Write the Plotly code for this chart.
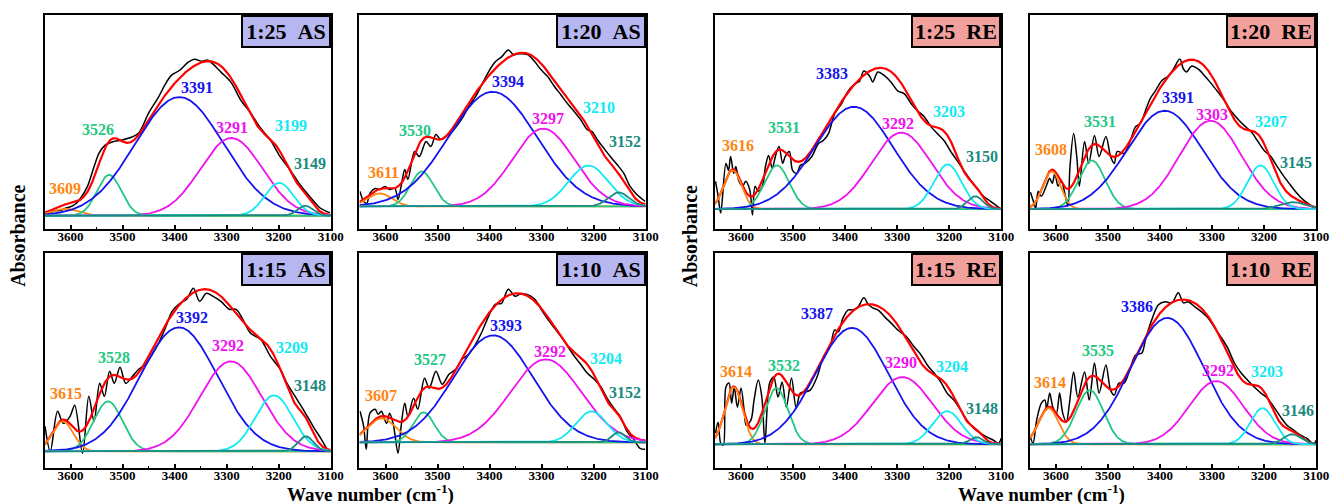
import numpy as np
import plotly.graph_objects as go

# ---------------- measured spectra (black traces) ----------------
wn_125_as = [3650, 3640, 3630, 3620, 3609, 3600, 3590, 3583, 3568, 3555, 3545, 3533, 3520, 3501, 3482, 3469,
             3450, 3431, 3419, 3406, 3390, 3374, 3362, 3349, 3336, 3324, 3311, 3292, 3273, 3254, 3235,
             3216, 3197, 3178, 3159, 3140, 3121, 3102]
ab_125_as = [2, 3, 5, 5, 7.7, 9, 12, 16, 29, 49, 63, 71, 74, 76, 79, 83,
             103, 119, 131, 141, 146, 154, 157, 155, 156, 151, 144, 134, 116, 103, 88,
             76, 59, 46, 31, 19, 8, 3]

wn_120_as = [3649, 3642, 3636, 3630, 3620, 3611, 3601, 3592, 3582, 3576, 3570, 3563, 3557, 3544, 3535, 3522,
             3513, 3503, 3494, 3484, 3472, 3453, 3440, 3427, 3415, 3402, 3389, 3377, 3364, 3354, 3345,
             3335, 3326, 3313, 3301, 3288, 3275, 3263, 3250, 3237, 3225, 3212, 3203, 3193, 3180, 3168,
             3155, 3142, 3130, 3117, 3101]
ab_120_as = [15, 5, 3, 13, 18, 17, 20, 17, 18, 7, 20, 37, 27, 55, 50, 65,
             60, 72, 67, 70, 75, 88, 100, 110, 122, 135, 145, 150, 157, 152, 153,
             153, 152, 145, 137, 130, 120, 112, 103, 95, 87, 77, 75, 67, 58, 50,
             42, 33, 20, 12, 5]

wn_115_as = [3649, 3639, 3625, 3614, 3601, 3592, 3577, 3565, 3555, 3544, 3535, 3525, 3516, 3505, 3494, 3481,
             3469, 3456, 3443, 3431, 3418, 3405, 3390, 3377, 3364, 3352, 3339, 3326, 3311, 3295, 3282,
             3269, 3254, 3235, 3216, 3197, 3184, 3165, 3153, 3134, 3118, 3108, 3102]
ab_115_as = [25, 0, 40, 28, 35, 46, -2, 55, 30, 68, 55, 80, 68, 84, 68, 75,
             82, 87, 97, 108, 123, 140, 148, 152, 163, 150, 158, 155, 150, 142, 142,
             132, 118, 112, 95, 82, 68, 52, 42, 25, 12, 3, 0]

wn_110_as = [3649, 3642, 3637, 3630, 3620, 3614, 3608, 3598, 3592, 3585, 3576, 3570, 3563, 3557, 3546, 3538,
             3525, 3516, 3503, 3491, 3478, 3465, 3453, 3440, 3427, 3415, 3402, 3389, 3377, 3364, 3351,
             3342, 3329, 3313, 3301, 3288, 3275, 3263, 3250, 3237, 3225, 3212, 3199, 3187, 3174, 3161,
             3149, 3136, 3123, 3111, 3101]
ab_110_as = [31, 16, -7, 29, 33, 28, 31, 19, 29, 18, -11, 16, 39, 26, 44, 33,
             64, 54, 71, 58, 68, 73, 83, 88, 98, 110, 126, 138, 139, 153, 146,
             148, 148, 143, 133, 123, 114, 106, 96, 86, 78, 69, 63, 56, 44, 34,
             26, 11, 3, -6, -7]

wn_125_re = [3649, 3644, 3639, 3629, 3624, 3620, 3614, 3610, 3604, 3597, 3591, 3583, 3578, 3573, 3567, 3559,
             3553, 3547, 3540, 3534, 3527, 3520, 3515, 3507, 3501, 3493, 3486, 3477, 3464, 3451, 3442,
             3432, 3420, 3407, 3394, 3381, 3372, 3364, 3353, 3347, 3337, 3324, 3312, 3299, 3286, 3273,
             3261, 3248, 3235, 3223, 3210, 3197, 3185, 3172, 3159, 3147, 3134, 3121, 3108, 3100]
ab_125_re = [28, 13, -4, 46, 39, 53, 36, 43, 28, 23, 28, 19, -6, 23, 18, 23,
             43, 54, 41, 53, 63, 46, 53, 58, 39, 36, 44, 46, 53, 66, 69,
             76, 96, 106, 119, 126, 129, 139, 134, 128, 138, 134, 128, 119, 116, 106,
             99, 93, 83, 76, 69, 58, 49, 39, 29, 21, 13, 8, 3, 0]

wn_120_re = [3649, 3644, 3639, 3634, 3628, 3618, 3612, 3607, 3602, 3596, 3590, 3583, 3577, 3573, 3566, 3560,
             3555, 3545, 3537, 3526, 3517, 3504, 3495, 3488, 3482, 3469, 3457, 3447, 3438, 3428, 3419,
             3409, 3397, 3384, 3374, 3362, 3355, 3349, 3339, 3327, 3314, 3301, 3289, 3276, 3264, 3251,
             3238, 3225, 3213, 3200, 3187, 3175, 3162, 3149, 3137, 3124, 3111, 3100]
ab_120_re = [17, 9, 1, 18, 13, 24, 31, 26, 36, 23, 29, 16, 3, 43, 76, 53,
             23, 68, 46, 74, 53, 73, 53, 46, 58, 56, 69, 83, 86, 99, 111,
             119, 129, 134, 141, 151, 141, 138, 144, 141, 134, 126, 118, 109, 99, 91,
             84, 78, 69, 59, 53, 43, 33, 24, 16, 9, 4, 0]

wn_115_re = [3649, 3644, 3639, 3634, 3629, 3623, 3618, 3613, 3607, 3600, 3594, 3590, 3581, 3575, 3567, 3560,
             3554, 3545, 3537, 3529, 3521, 3513, 3503, 3494, 3486, 3477, 3467, 3454, 3442, 3429, 3420,
             3413, 3404, 3394, 3385, 3375, 3364, 3355, 3347, 3337, 3324, 3312, 3299, 3286, 3280, 3267,
             3254, 3242, 3229, 3216, 3204, 3191, 3178, 3166, 3153, 3140, 3127, 3115, 3105, 3100]
ab_115_re = [11, 22, 1, -1, 57, 61, 41, 57, 37, 56, 34, 19, 24, 44, 64, 47,
             1, 61, 67, 47, 62, 37, 66, 36, 51, 52, 54, 67, 87, 97, 114,
             112, 126, 134, 134, 137, 146, 139, 136, 134, 127, 121, 114, 109, 106, 97,
             89, 79, 71, 62, 51, 44, 34, 24, 16, 11, 7, 4, 1, 6]

wn_110_re = [3649, 3644, 3637, 3628, 3621, 3618, 3612, 3606, 3599, 3593, 3587, 3580, 3574, 3566, 3558, 3545,
             3536, 3526, 3517, 3504, 3495, 3488, 3479, 3469, 3460, 3447, 3435, 3428, 3416, 3403, 3390,
             3377, 3365, 3355, 3346, 3333, 3320, 3308, 3295, 3283, 3270, 3257, 3244, 3232, 3219, 3206,
             3194, 3181, 3168, 3156, 3143, 3130, 3118, 3105, 3100]
ab_110_re = [7, 1, 24, 41, 44, 34, 51, 37, 31, 51, 31, 22, 41, 72, 47, 72,
             44, 81, 51, 79, 54, 49, 61, 61, 71, 89, 91, 104, 124, 139, 142,
             141, 151, 141, 142, 137, 132, 126, 116, 107, 96, 81, 71, 64, 57, 51,
             46, 37, 27, 19, 14, 9, 6, 0, 4]

# ---------------- Gaussian band parameters (centre cm-1, height, FWHM cm-1) ----------------
centers_125_as = [3609, 3526, 3391, 3291, 3199, 3149]
heights_125_as = [7, 41, 119, 78, 33, 10]
fwhm_125_as = [60, 55, 200, 140, 65, 35]

centers_120_as = [3611, 3530, 3394, 3297, 3210, 3152]
heights_120_as = [13, 35, 115, 78, 41, 14]
fwhm_120_as = [55, 52, 200, 140, 90, 47]

centers_115_as = [3615, 3528, 3392, 3292, 3209, 3148]
heights_115_as = [30, 50, 124, 90, 56, 15]
fwhm_115_as = [47, 65, 175, 140, 85, 35]

centers_110_as = [3607, 3527, 3393, 3292, 3204, 3152]
heights_110_as = [24, 30, 107, 83, 31, 10]
fwhm_110_as = [65, 48, 180, 160, 70, 30]

centers_125_re = [3616, 3531, 3383, 3292, 3203, 3150]
heights_125_re = [39, 44, 103, 77, 45, 13]
fwhm_125_re = [40, 56, 177, 135, 63, 35]

centers_120_re = [3608, 3531, 3391, 3303, 3207, 3145]
heights_120_re = [38, 49, 99, 89, 44, 7]
fwhm_120_re = [40, 60, 170, 140, 60, 60]

centers_115_re = [3614, 3532, 3387, 3290, 3204, 3148]
heights_115_re = [57, 56, 116, 67, 33, 7]
fwhm_115_re = [40, 52, 165, 135, 66, 30]

centers_110_re = [3614, 3535, 3386, 3292, 3203, 3146]
heights_110_re = [36, 54, 126, 63, 36, 10]
fwhm_110_re = [45, 62, 165, 122, 55, 40]

panel_titles = ["1:25\u00a0\u00a0AS", "1:20\u00a0\u00a0AS", "1:15\u00a0\u00a0AS", "1:10\u00a0\u00a0AS",
                "1:25\u00a0\u00a0RE", "1:20\u00a0\u00a0RE", "1:15\u00a0\u00a0RE", "1:10\u00a0\u00a0RE"]
x_ticks = [3600, 3500, 3400, 3300, 3200, 3100]

# ---------------- styling / layout ----------------
band_colors = ["#FF8410", "#22C882", "#1414EE", "#F010F0", "#10EAF2", "#1A8A80"]
fit_color = "#FF0000"
box_colors = {"AS": "#B6B6F0", "RE": "#F2A09C"}
FONT = "Liberation Serif"

spectra = [(wn_125_as, ab_125_as), (wn_120_as, ab_120_as), (wn_115_as, ab_115_as), (wn_110_as, ab_110_as),
           (wn_125_re, ab_125_re), (wn_120_re, ab_120_re), (wn_115_re, ab_115_re), (wn_110_re, ab_110_re)]
bands = [(centers_125_as, heights_125_as, fwhm_125_as), (centers_120_as, heights_120_as, fwhm_120_as),
         (centers_115_as, heights_115_as, fwhm_115_as), (centers_110_as, heights_110_as, fwhm_110_as),
         (centers_125_re, heights_125_re, fwhm_125_re), (centers_120_re, heights_120_re, fwhm_120_re),
         (centers_115_re, heights_115_re, fwhm_115_re), (centers_110_re, heights_110_re, fwhm_110_re)]

# where each band label sits (wavenumber, absorbance) in its panel
label_pos = [
    [(3611, 27.7), (3547, 86.7), (3357, 128.7), (3289, 88.3), (3176, 90.3), (3140, 52.7)],
    [(3604, 34), (3543, 75.7), (3364, 125.7), (3288, 88.3), (3190, 99.3), (3140, 65)],
    [(3608, 57.7), (3517, 94.3), (3366, 134.3), (3298, 105.7), (3175, 104.3), (3140, 65.7)],
    [(3609, 47), (3515, 82.7), (3368, 117), (3284, 90.7), (3176, 84.3), (3139, 50)],
    [(3605, 63.7), (3518, 82), (3426, 136.7), (3299, 86), (3200, 98.7), (3136, 52.7)],
    [(3609, 60), (3516, 87.7), (3365, 112), (3300, 95.3), (3186, 87.7), (3138, 46.7)],
    [(3609, 72.3), (3518, 79), (3454, 130), (3293, 81.3), (3195, 78), (3137, 35.7)],
    [(3612, 61.3), (3520, 93), (3444, 137.3), (3289, 73.3), (3194, 72.3), (3135, 33.3)],
]
y_ranges = [(-13.3, 201.3), (-22.7, 192), (-16.7, 198.3), (-25.7, 189.3),
            (-20, 195.3), (-20, 195.3), (-23.7, 190.7), (-23.7, 190.7)]

W, H = 1342, 504
col_px = [(45, 334), (363, 652), (722, 1011), (1040, 1329)]
row_px = [(15, 229), (253, 468)]
grid = [(0, 0), (0, 1), (1, 0), (1, 1), (0, 2), (0, 3), (1, 2), (1, 3)]

xs = np.linspace(3650, 3100, 1101)


def gauss(x, c, h, w):
    return h * np.exp(-4.0 * np.log(2.0) * (x - c) ** 2 / w ** 2)


fig = go.Figure()
layout = {}
annotations = []

for k in range(8):
    n = k + 1
    xa = "x" if n == 1 else f"x{n}"
    ya = "y" if n == 1 else f"y{n}"
    r, c = grid[k]
    wn, ab = spectra[k]
    cen, hei, fw = bands[k]

    # measured spectrum
    fig.add_trace(go.Scatter(x=wn, y=ab, mode="lines", xaxis=xa, yaxis=ya,
                             line=dict(color="black", width=1.5, shape="spline", smoothing=0.9),
                             hoverinfo="skip", showlegend=False))
    comps = [gauss(xs, cc, hh, ww) for cc, hh, ww in zip(cen, hei, fw)]
    # cumulative fit
    fig.add_trace(go.Scatter(x=xs, y=np.sum(comps, axis=0), mode="lines", xaxis=xa, yaxis=ya,
                             line=dict(color=fit_color, width=2.2), hoverinfo="skip", showlegend=False))
    # individual bands
    for j, comp in enumerate(comps):
        fig.add_trace(go.Scatter(x=xs, y=comp, mode="lines", xaxis=xa, yaxis=ya,
                                 line=dict(color=band_colors[j], width=1.8),
                                 hoverinfo="skip", showlegend=False))
        lx, ly = label_pos[k][j]
        annotations.append(dict(x=lx, y=ly, xref=xa, yref=ya, text=f"<b>{cen[j]}</b>", showarrow=False,
                                font=dict(family=FONT, size=16, color=band_colors[j]),
                                xanchor="center", yanchor="middle"))

    x0, x1 = col_px[c]
    t, b = row_px[r]
    axis_common = dict(showline=True, linecolor="black", linewidth=2, mirror=True,
                       showgrid=False, zeroline=False)
    layout["xaxis" if n == 1 else f"xaxis{n}"] = dict(
        domain=[x0 / W, x1 / W], anchor=ya, range=[3650, 3100],
        tickvals=x_ticks, ticks="inside", ticklen=4, tickwidth=1.5, tickcolor="black",
        ticklabelstandoff=-6,
        tickfont=dict(family=FONT, size=13, color="black", weight="bold"),
        minor=dict(tickvals=[3650, 3550, 3450, 3350, 3250, 3150], ticks="inside",
                   ticklen=2.5, tickwidth=1.2, tickcolor="black"),
        **axis_common)
    layout["yaxis" if n == 1 else f"yaxis{n}"] = dict(
        domain=[1 - b / H, 1 - t / H], anchor=xa, range=list(y_ranges[k]),
        showticklabels=False, ticks="", **axis_common)

    tag = "AS" if k < 4 else "RE"
    annotations.append(dict(x=x1 / W, y=1 - t / H, xref="paper", yref="paper",
                            xanchor="right", yanchor="top", showarrow=False,
                            text=f"<b>{panel_titles[k]}</b>",
                            font=dict(family=FONT, size=22, color="black"),
                            bgcolor=box_colors[tag], bordercolor="black", borderwidth=2,
                            borderpad=1, width=84, height=27, align="center"))

# shared axis titles
for xc in (374, 1052):
    annotations.append(dict(x=xc / W, y=1 - 493 / H, xref="paper", yref="paper", showarrow=False,
                            text="<b>Wave number (cm<sup>-1</sup>)</b>",
                            font=dict(family=FONT, size=19, color="black"),
                            xanchor="center", yanchor="middle"))
for xc in (18, 697):
    annotations.append(dict(x=xc / W, y=1 - 236 / H, xref="paper", yref="paper", showarrow=False,
                            text="<b>Absorbance</b>", textangle=-90,
                            font=dict(family=FONT, size=20, color="black"),
                            xanchor="center", yanchor="middle"))

fig.update_layout(width=W, height=H, margin=dict(l=0, r=0, t=0, b=0),
                  paper_bgcolor="white", plot_bgcolor="white",
                  annotations=annotations, **layout)
fig.write_html("out.html")
